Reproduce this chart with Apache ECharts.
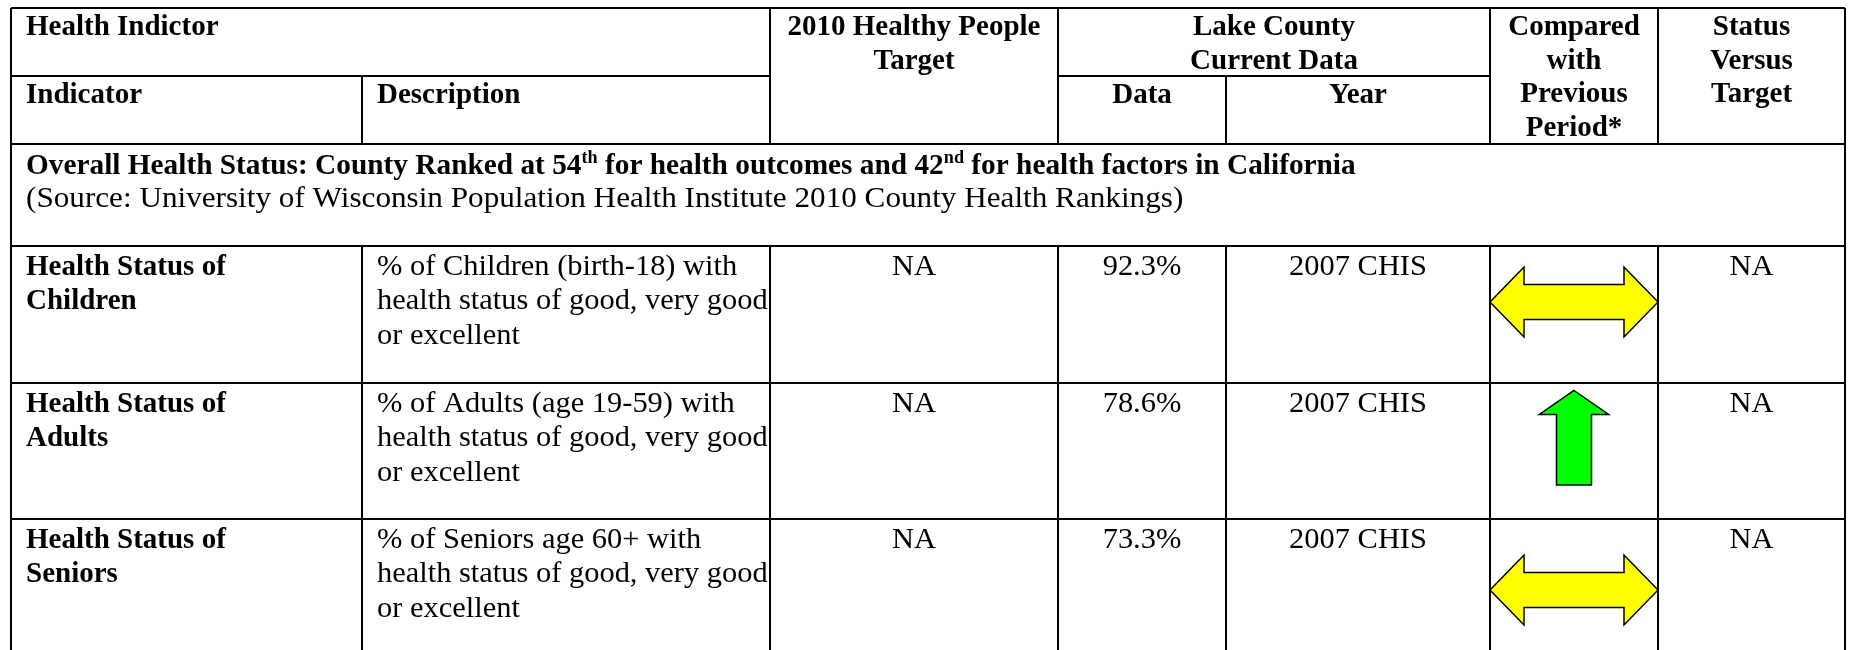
<!DOCTYPE html>
<html>
<head>
<meta charset="utf-8">
<title>Lake County Health Indicators</title>
<script src="https://cdn.jsdelivr.net/npm/echarts@6/dist/echarts.min.js"></script>
<style>
  html, body { margin: 0; padding: 0; background: #fff; }
  #main { width: 1849px; height: 650px; }
</style>
</head>
<body>
<div id="main"></div>
<script>
// table content
var indicators = ['Health Status of\nChildren', 'Health Status of\nAdults', 'Health Status of\nSeniors'];
var descriptions = [
  '% of Children (birth-18) with\nhealth status of good, very good\nor excellent',
  '% of Adults (age 19-59) with\nhealth status of good, very good\nor excellent',
  '% of Seniors age 60+ with\nhealth status of good, very good\nor excellent'
];
var targets = ['NA', 'NA', 'NA'];
var dataValues = ['92.3%', '78.6%', '73.3%'];
var years = ['2007 CHIS', '2007 CHIS', '2007 CHIS'];
var trends = ['same', 'up', 'same'];   // compared with previous period
var statuses = ['NA', 'NA', 'NA'];
var sectionTitle = '{b|Overall Health Status: County Ranked at 54}{s|th}{b| for health outcomes and 42}{s|nd}{b| for health factors in California}';
var sectionSource = '(Source: University of Wisconsin Population Health Institute 2010 County Health Rankings)';

// layout of the table frame (pixels of the 1849x650 page)
var colX = [11, 362, 770, 1058, 1226, 1490, 1658, 1845];
var rowY = [8, 76, 144, 246, 383, 519, 660];
var arrowMid = [56, 54, 71];   // arrow centre below the row top
var pad = 15;
var fontFam = '"Liberation Serif", "Times New Roman", serif';

function mid(a, b) { return (colX[a] + colX[b]) / 2; }

// build cells
var cells = [];
function cell(x, y, text, bold, align, lh, sx) {
  cells.push({ x: x, y: y, text: text, bold: bold, align: align || 'left',
               lh: lh || 34.5, sx: sx || (bold ? 1 : 1.05) });
}
var hTop = 3;   // header text offset
cell(colX[0] + pad, rowY[0] + hTop, 'Health Indictor', true, 'left', 33.5);
cell(colX[0] + pad, rowY[1] + hTop, 'Indicator', true, 'left', 33.5);
cell(colX[1] + pad, rowY[1] + hTop, 'Description', true, 'left', 33.5);
cell(mid(2, 3), rowY[0] + hTop, '2010 Healthy People\nTarget', true, 'center', 33.5);
cell(mid(3, 5), rowY[0] + hTop, 'Lake County\nCurrent Data', true, 'center', 33.5);
cell(mid(3, 4), rowY[1] + hTop, 'Data', true, 'center', 33.5);
cell(mid(4, 5), rowY[1] + hTop, 'Year', true, 'center', 33.5);
cell(mid(5, 6), rowY[0] + hTop, 'Compared\nwith\nPrevious\nPeriod*', true, 'center', 33.5);
cell(mid(6, 7), rowY[0] + hTop, 'Status\nVersus\nTarget', true, 'center', 33.5);
cell(colX[0] + pad, rowY[2] + 5, sectionTitle, true, 'left', 34.5, 1.011);
cell(colX[0] + pad, rowY[2] + 38, sectionSource, false, 'left', 34.5, 1.075);
for (var i = 0; i < indicators.length; i++) {
  var rowTop = rowY[3 + i] + 4;
  cell(colX[0] + pad, rowTop, indicators[i], true);
  cell(colX[1] + pad, rowTop, descriptions[i], false);
  cell(mid(2, 3), rowTop, targets[i], false, 'center');
  cell(mid(3, 4), rowTop, dataValues[i], false, 'center');
  cell(mid(4, 5), rowTop, years[i], false, 'center');
  cell(mid(6, 7), rowTop, statuses[i], false, 'center');
}

// ruling lines [x1, y1, x2, y2]
var segs = [];
var bottom = 650;
segs.push([colX[0], rowY[0], colX[7], rowY[0]]);
segs.push([colX[0], rowY[1], colX[2], rowY[1]]);
segs.push([colX[3], rowY[1], colX[5], rowY[1]]);
[2, 3, 4, 5].forEach(function (r) { segs.push([colX[0], rowY[r], colX[7], rowY[r]]); });
segs.push([colX[0], rowY[0], colX[0], bottom]);
segs.push([colX[7], rowY[0], colX[7], bottom]);
[1, 4].forEach(function (c) {
  segs.push([colX[c], rowY[1], colX[c], rowY[2]]);
  segs.push([colX[c], rowY[3], colX[c], bottom]);
});
[2, 3, 5, 6].forEach(function (c) {
  segs.push([colX[c], rowY[0], colX[c], rowY[2]]);
  segs.push([colX[c], rowY[3], colX[c], bottom]);
});

function arrowPoints(kind, cx, cy) {
  if (kind === 'up') {
    return [[cx, cy - 46.5], [cx + 34.7, cy - 22.5], [cx + 17.5, cy - 22.5], [cx + 17.5, cy + 48],
            [cx - 17.5, cy + 48], [cx - 17.5, cy - 22.5], [cx - 34.7, cy - 22.5]];
  }
  return [[cx - 84, cy], [cx - 50, cy - 35], [cx - 50, cy - 17.5], [cx + 50, cy - 17.5], [cx + 50, cy - 35],
          [cx + 84, cy], [cx + 50, cy + 35], [cx + 50, cy + 17.5], [cx - 50, cy + 17.5], [cx - 50, cy + 35]];
}

var myChart = echarts.init(document.getElementById('main'), null, { renderer: 'canvas' });

var option = {
  backgroundColor: '#fff',
  animation: false,
  grid: { left: 0, right: 0, top: 0, bottom: 0 },
  xAxis: { type: 'value', min: 0, max: 1849, show: false },
  yAxis: { type: 'value', min: 0, max: 650, inverse: true, show: false },
  series: [
    {
      type: 'custom',
      name: 'rules',
      silent: true,
      clip: false,
      data: segs,
      renderItem: function (params, api) {
        var s = segs[params.dataIndex];
        var a = api.coord([s[0], s[1]]);
        var b = api.coord([s[2], s[3]]);
        return {
          type: 'line',
          shape: { x1: a[0], y1: a[1], x2: b[0], y2: b[1] },
          style: { stroke: '#000', lineWidth: 2 }
        };
      }
    },
    {
      type: 'custom',
      name: 'trend',
      silent: true,
      clip: false,
      data: trends.map(function (t, i) { return [mid(5, 6), rowY[3 + i] + arrowMid[i]]; }),
      renderItem: function (params, api) {
        var i = params.dataIndex;
        var pts = arrowPoints(trends[i], api.value(0), api.value(1)).map(function (p) { return api.coord(p); });
        return {
          type: 'polygon',
          shape: { points: pts },
          style: { fill: trends[i] === 'up' ? '#00ff00' : '#ffff00', stroke: '#000', lineWidth: 1.5 }
        };
      }
    },
    {
      type: 'custom',
      name: 'cells',
      silent: true,
      clip: false,
      data: cells.map(function (c) { return [c.x, c.y]; }),
      renderItem: function (params, api) {
        var c = cells[params.dataIndex];
        var p = api.coord([api.value(0), api.value(1)]);
        return {
          type: 'text',
          x: p[0],
          y: p[1],
          scaleX: c.sx,
          style: {
            text: c.text,
            fill: '#000',
            fontFamily: fontFam,
            fontSize: 29,
            fontWeight: c.bold ? 'bold' : 'normal',
            align: c.align,
            verticalAlign: 'top',
            lineHeight: c.lh,
            rich: {
              b: { fontFamily: fontFam, fontSize: 29, fontWeight: 'bold', lineHeight: c.lh, verticalAlign: 'middle', fill: '#000' },
              s: { fontFamily: fontFam, fontSize: 18, fontWeight: 'bold', lineHeight: 17, verticalAlign: 'top', fill: '#000' }
            }
          }
        };
      }
    }
  ]
};

myChart.setOption(option);
</script>
</body>
</html>
